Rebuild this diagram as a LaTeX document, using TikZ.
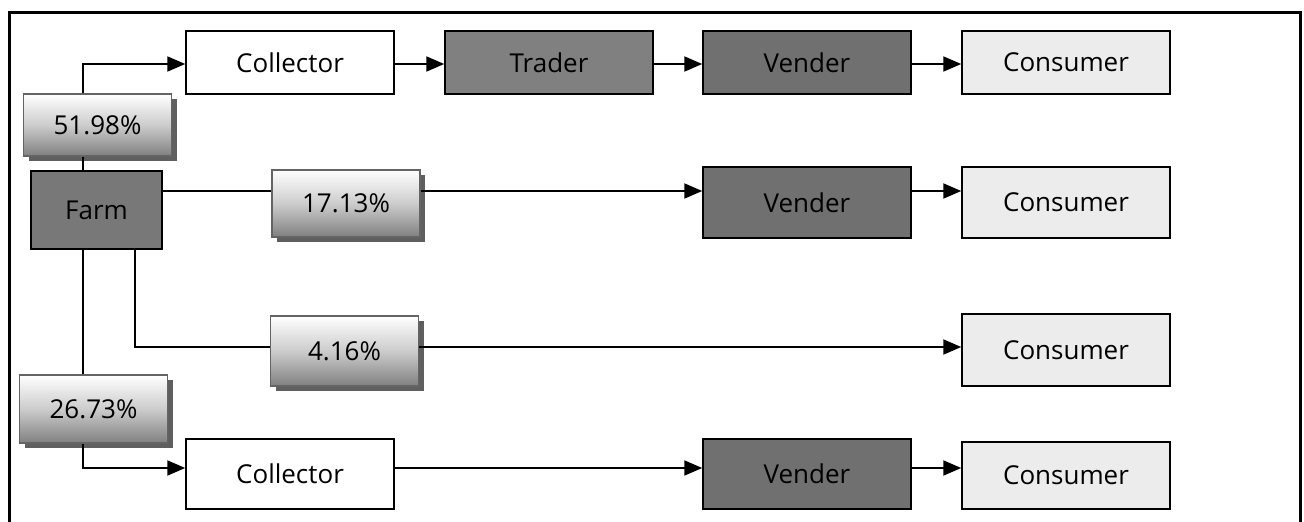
\documentclass[tikz,border=0pt]{standalone}
\usepackage{fontspec}
\setmainfont{Open Sans}
\usetikzlibrary{arrows.meta,shadows}

\definecolor{farmgray}{RGB}{120,120,120}
\definecolor{tradergray}{RGB}{128,128,128}
\definecolor{vendgray}{RGB}{112,112,112}
\definecolor{consgray}{RGB}{236,236,236}
\definecolor{pctedge}{RGB}{100,100,100}
\definecolor{pctshadow}{RGB}{95,95,95}
\definecolor{pctbottom}{RGB}{128,128,128}

\tikzset{
  box/.style={draw=black, line width=1.5pt, minimum width=208pt, inner sep=0pt,
    font=\fontsize{26}{29}\selectfont},
  collectorbox/.style={box, fill=white, minimum height=63pt},
  traderbox/.style={box, fill=tradergray, minimum height=63pt},
  vendbox/.style={box, fill=vendgray, minimum height=70pt},
  consbox/.style={box, fill=consgray, minimum height=70pt},
  farmbox/.style={box, fill=farmgray, minimum width=131pt, minimum height=78pt},
  pctbox/.style={draw=pctedge, line width=1.5pt, inner sep=0pt,
    minimum width=148pt, minimum height=66pt,
    top color=white, bottom color=pctbottom, middle color=white!80!black,
    drop shadow={shadow xshift=5pt, shadow yshift=-5pt, fill=pctshadow, opacity=1},
    font=\fontsize{26}{29}\selectfont},
  flow/.style={draw=black, line width=2pt},
  arr/.style={flow, -{Triangle[length=18pt,width=15pt]}}
}

\begin{document}
\begin{tikzpicture}[x=1pt,y=-1pt]
  \useasboundingbox (0,0) rectangle (1304,522);

  % outer frame, open at the bottom edge
  \draw[line width=3pt] (9,530) |- (1300,12) -- (1300,530);

  % heights of the horizontal flow lines
  \coordinate (r1) at (0,64);
  \coordinate (r2) at (0,191);
  \coordinate (r3) at (0,347);
  \coordinate (r4) at (0,468);
  % vertical trunks leaving the farm
  \coordinate (ta) at (83,0);
  \coordinate (tb) at (135,0);

  % row 1
  \node[collectorbox] (col1) at (290,62.5) {Collector};
  \node[traderbox]    (trad) at (549,62.5) {Trader};
  \node[vendbox, minimum height=63pt] (vend1) at (807,62.5) {Vender};
  \node[consbox, minimum height=63pt] (cons1) at (1066,62.5) {Consumer};

  % farm and shares
  \node[farmbox] (farm) at (96.5,210) {Farm};
  \node[pctbox, minimum height=62pt] (p1) at (97.5,125) {51.98\%};
  \node[pctbox, minimum height=67pt] (p2) at (346,203.5) {17.13\%};
  \node[pctbox, minimum height=70pt] (p3) at (344.5,351) {4.16\%};
  \node[pctbox, minimum height=68pt] (p4) at (93.5,409) {26.73\%};

  % row 2
  \node[vendbox, minimum height=71pt] (vend2) at (807,202.5) {Vender};
  \node[consbox, minimum height=71pt] (cons2) at (1066,202.5) {Consumer};

  % row 3
  \node[consbox, minimum height=72pt] (cons3) at (1066,350) {Consumer};

  % row 4
  \node[collectorbox, minimum height=70pt] (col2) at (290,474) {Collector};
  \node[vendbox] (vend3) at (807,474) {Vender};
  \node[consbox, minimum height=67pt] (cons4) at (1066,475.5) {Consumer};

  % row 1 connectors
  \draw[flow] (farm.north -| ta) -- (p1.south -| ta);
  \draw[arr] (p1.north -| ta) |- (col1.west |- r1);
  \draw[arr] (col1.east |- r1) -- (trad.west |- r1);
  \draw[arr] (trad.east |- r1) -- (vend1.west |- r1);
  \draw[arr] (vend1.east |- r1) -- (cons1.west |- r1);

  % row 2 connectors
  \draw[flow] (farm.east |- r2) -- (p2.west |- r2);
  \draw[arr] (p2.east |- r2) -- (vend2.west |- r2);
  \draw[arr] (vend2.east |- r2) -- (cons2.west |- r2);

  % row 3 connectors
  \draw[flow] (farm.south -| tb) |- (p3.west |- r3);
  \draw[arr] (p3.east |- r3) -- (cons3.west |- r3);

  % row 4 connectors
  \draw[flow] (farm.south -| ta) -- (p4.north -| ta);
  \draw[arr] (p4.south -| ta) |- (col2.west |- r4);
  \draw[arr] (col2.east |- r4) -- (vend3.west |- r4);
  \draw[arr] (vend3.east |- r4) -- (cons4.west |- r4);
\end{tikzpicture}
\end{document}
